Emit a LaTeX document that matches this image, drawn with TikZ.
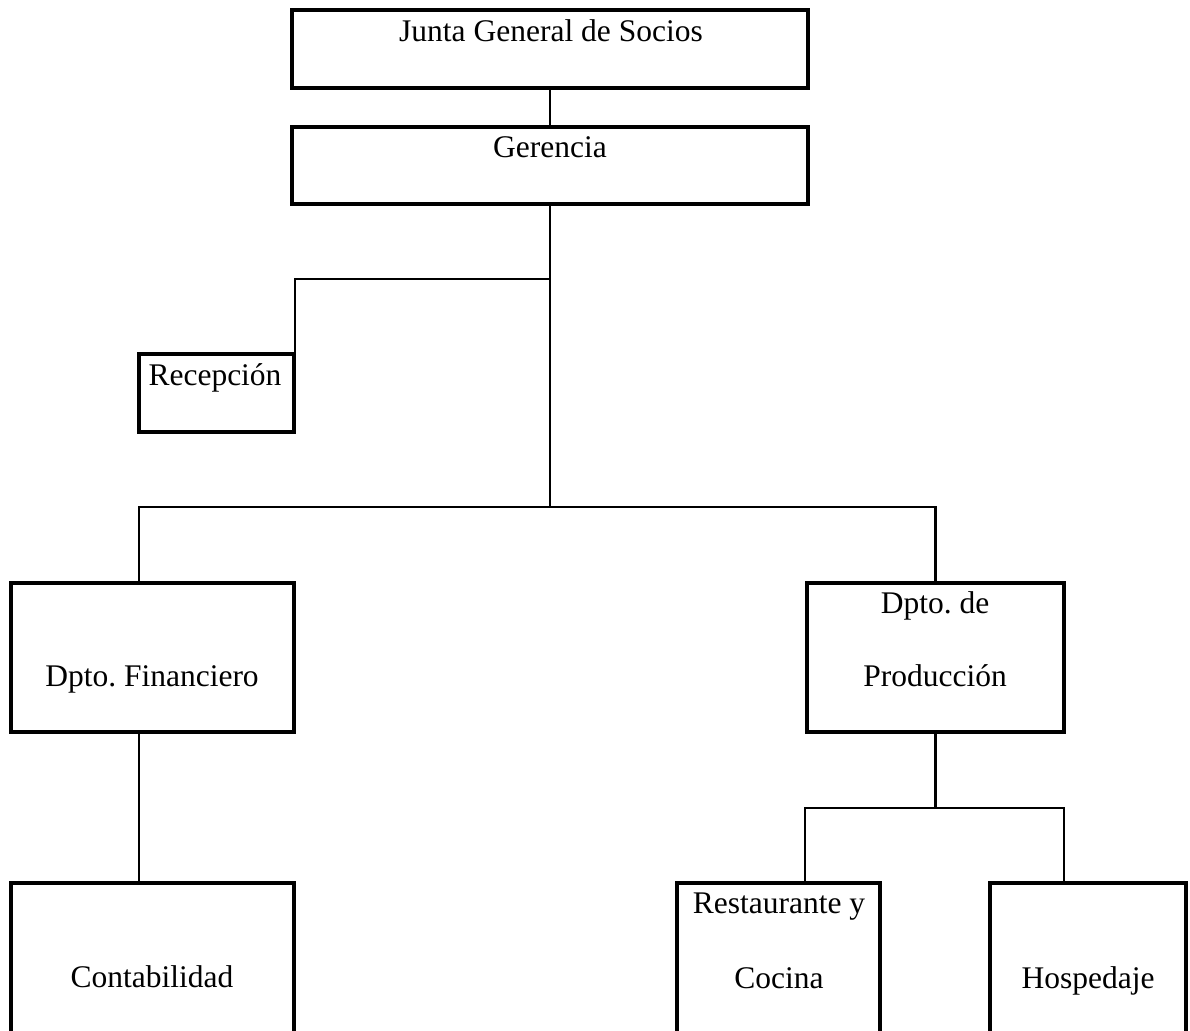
\documentclass[tikz,border=0pt]{standalone}
\usepackage{fontspec}
\setmainfont{Liberation Serif}
\frenchspacing
\begin{document}
\begin{tikzpicture}[x=1pt,y=-1pt,
  box/.style={draw,rectangle,line width=3.5pt,inner sep=0pt,minimum width=#1},
  conn/.style={line width=2.5pt},
  lbl/.style={anchor=base,inner sep=0pt,font=\fontsize{31.5}{36}\selectfont}]
\useasboundingbox (0,0) rectangle (1190,1030);
% boxes
\node[box=516,minimum height=78] (junta) at (550,49) {};
\node[box=516,minimum height=77] (ger) at (550,165.5) {};
\node[box=155,minimum height=78] (rec) at (216.5,393) {};
\node[box=283,minimum height=149] (fin) at (152.5,657.5) {};
\node[box=257,minimum height=149] (prod) at (935.5,657.5) {};
\node[box=283,minimum height=217] (cont) at (152.5,991.5) {};
\node[box=203,minimum height=217] (rest) at (778.5,991.5) {};
\node[box=196,minimum height=217] (hosp) at (1088,991.5) {};
% texts
\node[lbl] (tjunta) at (551,42) {Junta General de Socios};
\node[lbl] (tger) at (550,157) {Gerencia};
\node[lbl] (trec) at (215,385) {Recepción};
\node[lbl] (tfin) at (152,686) {Dpto. Financiero};
\node[lbl] (tprod1) at (935,613) {Dpto. de};
\node[lbl] (tprod2) at (935,686) {Producción};
\node[lbl] (tcont) at (152,987) {Contabilidad};
\node[lbl] (trest1) at (779,913) {Restaurante y};
\node[lbl] (trest2) at (779,988) {Cocina};
\node[lbl] (thosp) at (1088,988) {Hospedaje};
% connectors
\coordinate (r1) at (550,279);
\coordinate (b1) at (550,507);
\coordinate (b2) at (935.5,808);
\draw[conn] (junta.south) -- (ger.north);
\draw[conn] (ger.south) -- (b1);
\draw[conn] (r1) -| ([xshift=-1pt]rec.north east);
\draw[conn] ([xshift=-13.5pt]fin.north) |- (b1) -| (prod.north);
\draw[conn] ([xshift=-13.5pt]fin.south) -- ([xshift=-13.5pt]cont.north);
\draw[conn] (prod.south) -- (b2);
\draw[conn] ([xshift=26.5pt]rest.north) |- (b2) -| ([xshift=-24pt]hosp.north);
\end{tikzpicture}
\end{document}
